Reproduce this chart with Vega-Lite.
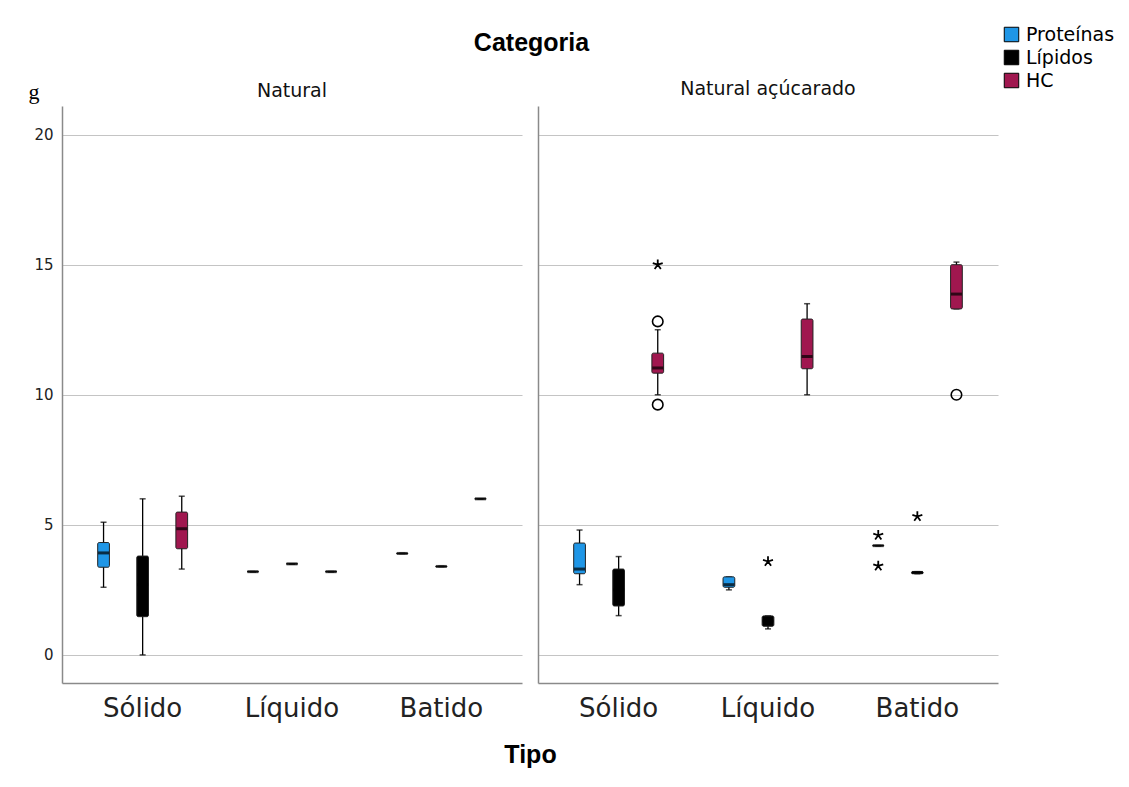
{
  "$schema": "https://vega.github.io/schema/vega-lite/v6.json",
  "autosize": {"type": "pad"},
  "padding": {"left": 28, "top": 25, "right": 5, "bottom": 5},
  "background": "white",
  "bounds": "flush",
  "title": {"text": "Categoria", "font": "Liberation Sans", "fontSize": 25, "fontWeight": "bold", "anchor": "middle", "color": "black", "offset": 0, "dx": -40, "dy": 31},
  "datasets": {
    "cajas": [
      {"Categoria": "Natural", "Tipo": "Sólido", "Nutriente": "Proteínas", "min": 2.6, "q1": 3.37, "mediana": 3.92, "q3": 4.32, "max": 5.1},
      {"Categoria": "Natural", "Tipo": "Sólido", "Nutriente": "Lípidos", "min": 0, "q1": 1.47, "mediana": 2.7, "q3": 3.8, "max": 6.0},
      {"Categoria": "Natural", "Tipo": "Sólido", "Nutriente": "HC", "min": 3.3, "q1": 4.08, "mediana": 4.85, "q3": 5.49, "max": 6.1},
      {"Categoria": "Natural", "Tipo": "Líquido", "Nutriente": "Proteínas", "min": 3.2, "q1": 3.2, "mediana": 3.2, "q3": 3.2, "max": 3.2},
      {"Categoria": "Natural", "Tipo": "Líquido", "Nutriente": "Lípidos", "min": 3.5, "q1": 3.5, "mediana": 3.5, "q3": 3.5, "max": 3.5},
      {"Categoria": "Natural", "Tipo": "Líquido", "Nutriente": "HC", "min": 3.2, "q1": 3.2, "mediana": 3.2, "q3": 3.2, "max": 3.2},
      {"Categoria": "Natural", "Tipo": "Batido", "Nutriente": "Proteínas", "min": 3.9, "q1": 3.9, "mediana": 3.9, "q3": 3.9, "max": 3.9},
      {"Categoria": "Natural", "Tipo": "Batido", "Nutriente": "Lípidos", "min": 3.4, "q1": 3.4, "mediana": 3.4, "q3": 3.4, "max": 3.4},
      {"Categoria": "Natural", "Tipo": "Batido", "Nutriente": "HC", "min": 6.0, "q1": 6.0, "mediana": 6.0, "q3": 6.0, "max": 6.0},
      {"Categoria": "Natural açúcarado", "Tipo": "Sólido", "Nutriente": "Proteínas", "min": 2.7, "q1": 3.12, "mediana": 3.3, "q3": 4.3, "max": 4.8},
      {"Categoria": "Natural açúcarado", "Tipo": "Sólido", "Nutriente": "Lípidos", "min": 1.51, "q1": 1.88, "mediana": 2.5, "q3": 3.3, "max": 3.78},
      {"Categoria": "Natural açúcarado", "Tipo": "Sólido", "Nutriente": "HC", "min": 10.0, "q1": 10.83, "mediana": 11.03, "q3": 11.6, "max": 12.5},
      {"Categoria": "Natural açúcarado", "Tipo": "Líquido", "Nutriente": "Proteínas", "min": 2.5, "q1": 2.6, "mediana": 2.7, "q3": 3.0, "max": 3.0},
      {"Categoria": "Natural açúcarado", "Tipo": "Líquido", "Nutriente": "Lípidos", "min": 1.0, "q1": 1.1, "mediana": 1.3, "q3": 1.5, "max": 1.5},
      {"Categoria": "Natural açúcarado", "Tipo": "Líquido", "Nutriente": "HC", "min": 10.0, "q1": 11.0, "mediana": 11.47, "q3": 12.91, "max": 13.5},
      {"Categoria": "Natural açúcarado", "Tipo": "Batido", "Nutriente": "Proteínas", "min": 4.2, "q1": 4.2, "mediana": 4.2, "q3": 4.2, "max": 4.2},
      {"Categoria": "Natural açúcarado", "Tipo": "Batido", "Nutriente": "Lípidos", "min": 3.12, "q1": 3.12, "mediana": 3.17, "q3": 3.2, "max": 3.2},
      {"Categoria": "Natural açúcarado", "Tipo": "Batido", "Nutriente": "HC", "min": 13.3, "q1": 13.3, "mediana": 13.87, "q3": 15.0, "max": 15.1}
    ],
    "atipicos": [
      {"Categoria": "Natural açúcarado", "Tipo": "Sólido", "Nutriente": "HC", "valor": 15.0, "forma": "extremo"},
      {"Categoria": "Natural açúcarado", "Tipo": "Sólido", "Nutriente": "HC", "valor": 12.82, "forma": "atipico"},
      {"Categoria": "Natural açúcarado", "Tipo": "Sólido", "Nutriente": "HC", "valor": 9.62, "forma": "atipico"},
      {"Categoria": "Natural açúcarado", "Tipo": "Líquido", "Nutriente": "Lípidos", "valor": 3.59, "forma": "extremo"},
      {"Categoria": "Natural açúcarado", "Tipo": "Batido", "Nutriente": "Proteínas", "valor": 4.6, "forma": "extremo"},
      {"Categoria": "Natural açúcarado", "Tipo": "Batido", "Nutriente": "Proteínas", "valor": 3.42, "forma": "extremo"},
      {"Categoria": "Natural açúcarado", "Tipo": "Batido", "Nutriente": "Lípidos", "valor": 5.32, "forma": "extremo"},
      {"Categoria": "Natural açúcarado", "Tipo": "Batido", "Nutriente": "HC", "valor": 10.0, "forma": "atipico"}
    ]
  },
  "spacing": 16,
  "hconcat": [
    {
      "width": 460,
      "height": 577,
      "title": {"text": "Natural", "dy": 28},
      "layer": [
        {
          "data": {"name": "cajas"},
          "transform": [{"filter": "datum.Categoria === 'Natural'"}],
          "encoding": {
            "x": {"field": "Tipo", "type": "nominal", "sort": ["Sólido", "Líquido", "Batido"], "scale": {"paddingInner": 0, "paddingOuter": 0.04}, "axis": {"title": "Tipo", "titleX": 468, "titleAlign": "center"}},
            "xOffset": {"field": "Nutriente", "type": "nominal", "sort": ["Proteínas", "Lípidos", "HC"], "scale": {"paddingInner": 0.7, "paddingOuter": 0.76}}
          },
          "layer": [
            {"mark": {"type": "rule", "color": "black", "strokeWidth": 1.3}, "encoding": {"y": {"field": "min", "type": "quantitative", "scale": {"domain": [-1.08, 21.1], "nice": false, "zero": false}, "axis": {"values": [0, 5, 10, 15, 20], "title": "g", "titleAngle": 0, "titleX": -34, "titleY": -8, "titleAlign": "left", "titleBaseline": "alphabetic", "titleFont": "Liberation Serif", "titleFontSize": 22, "titleFontWeight": "normal"}}, "y2": {"field": "max"}}},
            {"mark": {"type": "tick", "color": "black", "size": 6, "thickness": 1.5}, "encoding": {"y": {"field": "min", "type": "quantitative"}}},
            {"mark": {"type": "tick", "color": "black", "size": 6, "thickness": 1.5}, "encoding": {"y": {"field": "max", "type": "quantitative"}}},
            {"mark": {"type": "bar", "stroke": "#222222", "strokeWidth": 1, "cornerRadius": 1.5}, "encoding": {"y": {"field": "q1", "type": "quantitative"}, "y2": {"field": "q3"}, "color": {"field": "Nutriente", "type": "nominal", "scale": {"domain": ["Proteínas", "Lípidos", "HC"], "range": ["#1f96e6", "#000000", "#a0174f"]}}}},
            {"mark": {"type": "tick", "color": "black", "size": 11, "thickness": 3}, "encoding": {"y": {"field": "mediana", "type": "quantitative"}}}
          ]
        }
      ]
    },
    {
      "width": 460,
      "height": 577,
      "title": {"text": "Natural açúcarado"},
      "layer": [
        {
          "data": {"name": "cajas"},
          "transform": [{"filter": "datum.Categoria === 'Natural açúcarado'"}],
          "encoding": {
            "x": {"field": "Tipo", "type": "nominal", "sort": ["Sólido", "Líquido", "Batido"], "scale": {"paddingInner": 0, "paddingOuter": 0.04}, "axis": {"title": null}},
            "xOffset": {"field": "Nutriente", "type": "nominal", "sort": ["Proteínas", "Lípidos", "HC"], "scale": {"paddingInner": 0.7, "paddingOuter": 0.76}}
          },
          "layer": [
            {"mark": {"type": "rule", "color": "black", "strokeWidth": 1.3}, "encoding": {"y": {"field": "min", "type": "quantitative", "scale": {"domain": [-1.08, 21.1], "nice": false, "zero": false}, "axis": {"values": [0, 5, 10, 15, 20], "title": null, "labels": false}}, "y2": {"field": "max"}}},
            {"mark": {"type": "tick", "color": "black", "size": 6, "thickness": 1.5}, "encoding": {"y": {"field": "min", "type": "quantitative"}}},
            {"mark": {"type": "tick", "color": "black", "size": 6, "thickness": 1.5}, "encoding": {"y": {"field": "max", "type": "quantitative"}}},
            {"mark": {"type": "bar", "stroke": "#222222", "strokeWidth": 1, "cornerRadius": 1.5}, "encoding": {"y": {"field": "q1", "type": "quantitative"}, "y2": {"field": "q3"}, "color": {"field": "Nutriente", "type": "nominal", "scale": {"domain": ["Proteínas", "Lípidos", "HC"], "range": ["#1f96e6", "#000000", "#a0174f"]}}}},
            {"mark": {"type": "tick", "color": "black", "size": 11, "thickness": 3}, "encoding": {"y": {"field": "mediana", "type": "quantitative"}}}
          ]
        },
        {
          "data": {"name": "atipicos"},
          "transform": [{"filter": "datum.forma === 'atipico'"}],
          "mark": {"type": "point", "shape": "circle", "filled": false, "color": "black", "size": 110, "strokeWidth": 1.6, "opacity": 1},
          "encoding": {
            "x": {"field": "Tipo", "type": "nominal", "sort": ["Sólido", "Líquido", "Batido"]},
            "xOffset": {"field": "Nutriente", "type": "nominal", "sort": ["Proteínas", "Lípidos", "HC"]},
            "y": {"field": "valor", "type": "quantitative"}
          }
        },
        {
          "data": {"name": "atipicos"},
          "transform": [{"filter": "datum.forma === 'extremo'"}],
          "mark": {"type": "point", "shape": "M0,0L0,-1M0,0L0.95,-0.31M0,0L0.59,0.81M0,0L-0.59,0.81M0,0L-0.95,-0.31", "filled": false, "color": "black", "size": 110, "strokeWidth": 1.8, "opacity": 1},
          "encoding": {
            "x": {"field": "Tipo", "type": "nominal", "sort": ["Sólido", "Líquido", "Batido"]},
            "xOffset": {"field": "Nutriente", "type": "nominal", "sort": ["Proteínas", "Lípidos", "HC"]},
            "y": {"field": "valor", "type": "quantitative"}
          }
        }
      ]
    }
  ],
  "resolve": {"scale": {"color": "shared"}},
  "config": {
    "view": {"stroke": null},
    "font": "DejaVu Sans",
    "title": {"fontSize": 19, "fontWeight": "normal", "font": "DejaVu Sans", "color": "#111111", "offset": 7},
    "axis": {"grid": false, "domainColor": "#8a8a8a", "domainWidth": 1.5, "ticks": false, "labelColor": "#222222", "titleColor": "black"},
    "axisY": {"grid": true, "gridColor": "#c4c4c4", "gridWidth": 1.2, "labelFontSize": 15, "labelPadding": 9},
    "axisX": {"labelFontSize": 26, "labelAngle": 0, "labelPadding": 12, "titleFont": "Liberation Sans", "titleFontSize": 25, "titleFontWeight": "bold", "titlePadding": 21},
    "legend": {"orient": "none", "legendX": 940, "legendY": -81, "title": null, "symbolType": "square", "symbolSize": 210, "symbolStrokeColor": "black", "symbolStrokeWidth": 1, "symbolOpacity": 1, "labelFontSize": 19, "labelFont": "DejaVu Sans", "labelColor": "black", "rowPadding": 3, "labelOffset": 5}
  }
}
